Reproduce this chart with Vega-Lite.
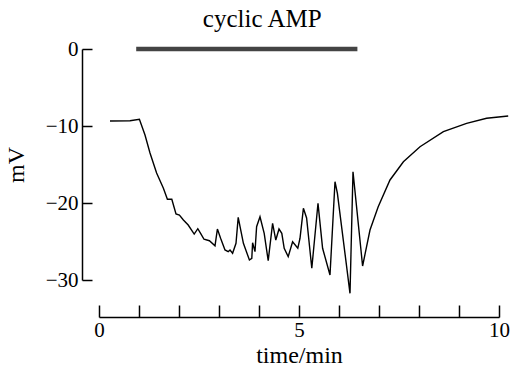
{
  "$schema": "https://vega.github.io/schema/vega-lite/v6.json",
  "width": 400,
  "height": 231,
  "autosize": "none",
  "padding": {"left": 99, "top": 49, "right": 13, "bottom": 91},
  "background": "white",
  "config": {"view": {"stroke": null}, "font": "Liberation Serif"},
  "layer": [
    {
      "data": {"values": [
        {"t": 0.275, "mV": -9.35}, {"t": 0.775, "mV": -9.31}, {"t": 1.01, "mV": -9.13},
        {"t": 1.15, "mV": -11.17}, {"t": 1.275, "mV": -13.51}, {"t": 1.44, "mV": -16.1},
        {"t": 1.61, "mV": -18.09}, {"t": 1.71, "mV": -19.52}, {"t": 1.82, "mV": -19.52},
        {"t": 1.925, "mV": -21.43}, {"t": 2.01, "mV": -21.56}, {"t": 2.11, "mV": -22.21},
        {"t": 2.23, "mV": -22.86}, {"t": 2.38, "mV": -24.03}, {"t": 2.47, "mV": -23.34},
        {"t": 2.54, "mV": -23.94}, {"t": 2.625, "mV": -24.71}, {"t": 2.76, "mV": -24.9},
        {"t": 2.9, "mV": -25.55}, {"t": 2.96, "mV": -23.38}, {"t": 3.04, "mV": -24.58},
        {"t": 3.15, "mV": -26.1}, {"t": 3.23, "mV": -26.32}, {"t": 3.275, "mV": -26.1},
        {"t": 3.34, "mV": -26.53}, {"t": 3.425, "mV": -25.23}, {"t": 3.48, "mV": -21.86},
        {"t": 3.61, "mV": -25.23}, {"t": 3.76, "mV": -27.4}, {"t": 3.82, "mV": -27.18},
        {"t": 3.84, "mV": -25.16}, {"t": 3.9, "mV": -26.32}, {"t": 3.94, "mV": -23.08},
        {"t": 4.025, "mV": -21.78}, {"t": 4.13, "mV": -23.94}, {"t": 4.23, "mV": -27.49},
        {"t": 4.34, "mV": -22.64}, {"t": 4.42, "mV": -24.81}, {"t": 4.5, "mV": -23.38},
        {"t": 4.57, "mV": -23.94}, {"t": 4.63, "mV": -25.88}, {"t": 4.73, "mV": -26.97},
        {"t": 4.84, "mV": -25.03}, {"t": 4.97, "mV": -25.88}, {"t": 5.025, "mV": -24.58},
        {"t": 5.11, "mV": -20.69}, {"t": 5.19, "mV": -21.95}, {"t": 5.32, "mV": -28.48},
        {"t": 5.475, "mV": -20.04}, {"t": 5.59, "mV": -25.88}, {"t": 5.775, "mV": -29.35},
        {"t": 5.9, "mV": -17.23}, {"t": 5.96, "mV": -18.74}, {"t": 6.275, "mV": -31.73},
        {"t": 6.35, "mV": -15.94}, {"t": 6.59, "mV": -28.18}, {"t": 6.775, "mV": -23.51},
        {"t": 6.98, "mV": -20.48}, {"t": 7.275, "mV": -17.01}, {"t": 7.61, "mV": -14.64},
        {"t": 8.025, "mV": -12.69}, {"t": 8.61, "mV": -10.74}, {"t": 9.19, "mV": -9.65},
        {"t": 9.69, "mV": -9.0}, {"t": 10.23, "mV": -8.7}
      ]},
      "mark": {"type": "line", "color": "black", "strokeWidth": 1.4, "clip": false},
      "encoding": {
        "x": {
          "field": "t", "type": "quantitative",
          "scale": {"domain": [0, 10], "nice": false, "zero": false},
          "axis": {
            "values": [0, 1, 2, 3, 4, 5, 6, 7, 8, 9, 10],
            "labelExpr": "datum.value % 5 === 0 ? datum.label : ''",
            "tickSize": -12, "offset": 37, "labelPadding": 14,
            "title": "time/min", "titlePadding": 3,
            "labelFont": "Liberation Serif", "titleFont": "Liberation Serif",
            "labelFontSize": 21, "titleFontSize": 24, "titleFontWeight": "normal",
            "labelColor": "black", "titleColor": "black",
            "domainColor": "black", "tickColor": "black", "domainWidth": 1.5, "tickWidth": 1.5,
            "grid": false, "labelFlush": false, "labelOverlap": false
          }
        },
        "y": {
          "field": "mV", "type": "quantitative",
          "scale": {"domain": [-30, 0], "nice": false, "zero": false},
          "axis": {
            "values": [-30, -20, -10, 0],
            "tickSize": -10, "offset": 17, "labelPadding": 14,
            "title": "mV", "titlePadding": 17,
            "labelFont": "Liberation Serif", "titleFont": "Liberation Serif",
            "labelFontSize": 21, "titleFontSize": 24, "titleFontWeight": "normal",
            "labelColor": "black", "titleColor": "black",
            "domainColor": "black", "tickColor": "black", "domainWidth": 1.5, "tickWidth": 1.5,
            "grid": false, "labelFlush": false, "labelOverlap": false
          }
        }
      }
    },
    {
      "data": {"values": [{"start": 0.93, "end": 6.46, "level": 0}]},
      "mark": {"type": "rule", "strokeWidth": 4.5, "color": "#444444"},
      "encoding": {
        "x": {
          "field": "start", "type": "quantitative",
          "axis": {
            "values": [0, 1, 2, 3, 4, 5, 6, 7, 8, 9, 10],
            "labelExpr": "datum.value % 5 === 0 ? datum.label : ''",
            "tickSize": -12, "offset": 37, "labelPadding": 14,
            "title": "time/min", "titlePadding": 3,
            "labelFont": "Liberation Serif", "titleFont": "Liberation Serif",
            "labelFontSize": 21, "titleFontSize": 24, "titleFontWeight": "normal",
            "labelColor": "black", "titleColor": "black",
            "domainColor": "black", "tickColor": "black", "domainWidth": 1.5, "tickWidth": 1.5,
            "grid": false, "labelFlush": false, "labelOverlap": false
          }
        },
        "x2": {"field": "end"},
        "y": {
          "field": "level", "type": "quantitative",
          "axis": {
            "values": [-30, -20, -10, 0],
            "tickSize": -10, "offset": 17, "labelPadding": 14,
            "title": "mV", "titlePadding": 17,
            "labelFont": "Liberation Serif", "titleFont": "Liberation Serif",
            "labelFontSize": 21, "titleFontSize": 24, "titleFontWeight": "normal",
            "labelColor": "black", "titleColor": "black",
            "domainColor": "black", "tickColor": "black", "domainWidth": 1.5, "tickWidth": 1.5,
            "grid": false, "labelFlush": false, "labelOverlap": false
          }
        }
      }
    },
    {
      "data": {"values": [{"label": "cyclic AMP"}]},
      "mark": {"type": "text", "font": "Liberation Serif", "fontSize": 25, "color": "black", "align": "center", "baseline": "alphabetic", "clip": false},
      "encoding": {
        "x": {
          "datum": 4.08, "type": "quantitative",
          "axis": {
            "values": [0, 1, 2, 3, 4, 5, 6, 7, 8, 9, 10],
            "labelExpr": "datum.value % 5 === 0 ? datum.label : ''",
            "tickSize": -12, "offset": 37, "labelPadding": 14,
            "title": "time/min", "titlePadding": 3,
            "labelFont": "Liberation Serif", "titleFont": "Liberation Serif",
            "labelFontSize": 21, "titleFontSize": 24, "titleFontWeight": "normal",
            "labelColor": "black", "titleColor": "black",
            "domainColor": "black", "tickColor": "black", "domainWidth": 1.5, "tickWidth": 1.5,
            "grid": false, "labelFlush": false, "labelOverlap": false
          }
        },
        "y": {
          "datum": 2.8, "type": "quantitative",
          "axis": {
            "values": [-30, -20, -10, 0],
            "tickSize": -10, "offset": 17, "labelPadding": 14,
            "title": "mV", "titlePadding": 17,
            "labelFont": "Liberation Serif", "titleFont": "Liberation Serif",
            "labelFontSize": 21, "titleFontSize": 24, "titleFontWeight": "normal",
            "labelColor": "black", "titleColor": "black",
            "domainColor": "black", "tickColor": "black", "domainWidth": 1.5, "tickWidth": 1.5,
            "grid": false, "labelFlush": false, "labelOverlap": false
          }
        },
        "text": {"field": "label"}
      }
    }
  ]
}
